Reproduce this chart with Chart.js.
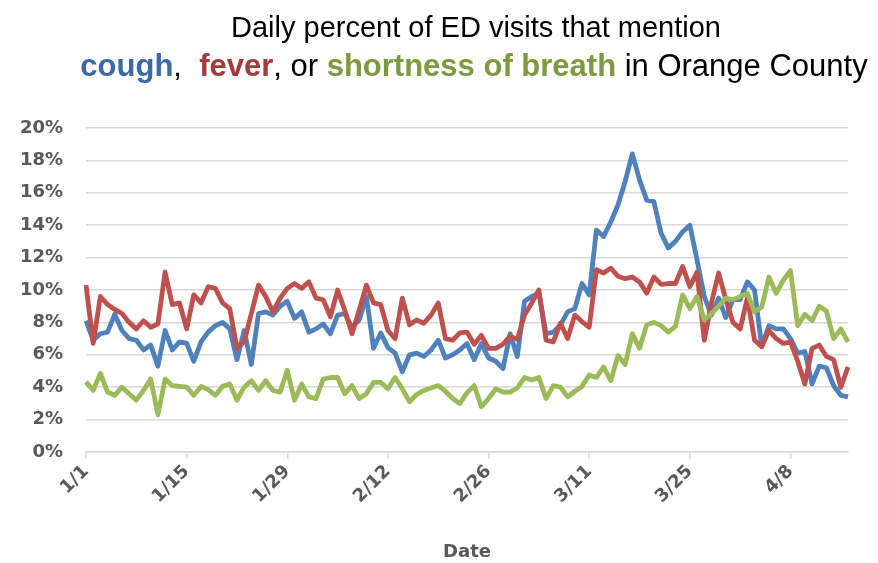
<!DOCTYPE html>
<html>
<head>
<meta charset="utf-8">
<script src="https://cdn.jsdelivr.net/npm/chart.js@4.4.1/dist/chart.umd.min.js"></script>
<style>
  html, body { margin: 0; padding: 0; background: #ffffff; }
</style>
</head>
<body>
<canvas id="chart" width="878" height="563"></canvas>
<script>
// daily categories, 1/1 through 4/16 (2020)
const dates = [];
for (let i = 0; i < 107; i++) {
  const d = new Date(2020, 0, 1 + i);
  dates.push((d.getMonth() + 1) + '/' + d.getDate());
}
const tickLabels = ['1/1', '1/15', '1/29', '2/12', '2/26', '3/11', '3/25', '4/8'];

// percent of ED visits
const cough = [
  8.1, 6.9, 7.3, 7.4, 8.5, 7.5, 7.0, 6.9, 6.3, 6.6, 5.3, 7.5, 6.3, 6.8, 6.7, 5.6, 6.8, 7.4, 7.8, 8.0,
  7.6, 5.7, 7.5, 5.4, 8.55, 8.65, 8.45, 9.0, 9.3, 8.25, 8.65, 7.4, 7.6, 7.9, 7.3, 8.45, 8.55, 7.7, 8.15, 9.6,
  6.4, 7.35, 6.45, 6.1, 4.95, 6.0, 6.1, 5.9, 6.3, 6.9, 5.8, 6.0, 6.3, 6.7, 5.7, 6.7, 5.8, 5.6, 5.15, 7.3,
  5.9, 9.3, 9.6, 9.8, 7.3, 7.4, 7.85, 8.65, 8.85, 10.4, 9.7, 13.7, 13.3, 14.2, 15.25, 16.7, 18.4, 16.8, 15.55, 15.45,
  13.5, 12.6, 13.0, 13.6, 14.0, 11.85, 9.6, 8.45, 9.5, 8.3, 9.4, 9.4, 10.5, 10.0, 6.5, 7.8, 7.6, 7.6, 7.0, 6.1,
  6.2, 4.2, 5.3, 5.2, 4.1, 3.5, 3.4
];
const fever = [
  10.3, 6.7, 9.6, 9.1, 8.8, 8.55, 8.0, 7.6, 8.1, 7.7, 7.9, 11.1, 9.1, 9.2, 7.6, 9.7, 9.2, 10.2, 10.1, 9.2,
  8.85, 6.4, 6.8, 8.55, 10.3, 9.6, 8.65, 9.5, 10.1, 10.4, 10.1, 10.5, 9.5, 9.4, 8.35, 10.0, 8.75, 7.3, 8.75, 10.3,
  9.2, 9.1, 7.5, 7.0, 9.5, 7.85, 8.15, 7.95, 8.45, 9.2, 7.0, 6.9, 7.35, 7.4, 6.65, 7.2, 6.4, 6.4, 6.65, 7.15,
  6.95, 8.45, 9.2, 10.0, 6.9, 6.8, 7.95, 7.0, 8.45, 8.05, 7.7, 11.25, 11.05, 11.35, 10.85, 10.7, 10.8, 10.5, 9.8, 10.8,
  10.35, 10.4, 10.4, 11.45, 10.2, 11.1, 6.9, 9.2, 11.05, 9.4, 8.0, 7.6, 9.5, 6.9, 6.5, 7.5, 7.0, 6.7, 6.8, 5.6,
  4.2, 6.4, 6.6, 5.9, 5.7, 4.0, 5.25
];
const breath = [
  4.33, 3.8, 4.85, 3.7, 3.5, 4.0, 3.6, 3.2, 3.8, 4.5, 2.3, 4.5, 4.1, 4.05, 4.0, 3.5, 4.05, 3.85, 3.5, 4.05,
  4.2, 3.2, 4.0, 4.4, 3.8, 4.4, 3.8, 3.7, 5.05, 3.2, 4.2, 3.4, 3.3, 4.5, 4.6, 4.6, 3.6, 4.1, 3.3, 3.6,
  4.3, 4.3, 3.9, 4.6, 3.9, 3.1, 3.55, 3.8, 3.95, 4.1, 3.75, 3.3, 3.0, 3.65, 4.1, 2.8, 3.3, 3.9, 3.7, 3.7,
  3.95, 4.6, 4.45, 4.6, 3.3, 4.1, 4.0, 3.4, 3.75, 4.05, 4.75, 4.6, 5.25, 4.4, 5.95, 5.4, 7.3, 6.4, 7.85, 8.0,
  7.8, 7.4, 7.75, 9.7, 8.85, 9.6, 8.15, 8.55, 9.0, 9.5, 9.4, 9.6, 9.8, 8.65, 8.95, 10.8, 9.8, 10.6, 11.2, 7.8,
  8.5, 8.1, 9.0, 8.7, 7.0, 7.6, 6.8
];

const titleLine1 = 'Daily percent of ED visits that mention';
const titleLine2 = [
  { text: 'cough', bold: true, color: '#3c6aa6' },
  { text: ',  ', bold: false, color: '#000000' },
  { text: 'fever', bold: true, color: '#a53b39' },
  { text: ', or ', bold: false, color: '#000000' },
  { text: 'shortness of breath', bold: true, color: '#7b9b3f' },
  { text: ' in Orange County', bold: false, color: '#000000' }
];

const titleFont = '"Liberation Sans", Arial, sans-serif';

const twoLineTitle = {
  id: 'twoLineTitle',
  afterDraw(chart) {
    const ctx = chart.ctx;
    ctx.save();
    ctx.textBaseline = 'alphabetic';
    ctx.textAlign = 'center';
    ctx.fillStyle = '#000000';
    ctx.font = '29px ' + titleFont;
    ctx.fillText(titleLine1, 476, 37);

    let total = 0;
    titleLine2.forEach(p => {
      ctx.font = (p.bold ? 'bold ' : '') + '31px ' + titleFont;
      p.w = ctx.measureText(p.text).width;
      total += p.w;
    });
    let x = 474 - total / 2;
    ctx.textAlign = 'left';
    titleLine2.forEach(p => {
      ctx.font = (p.bold ? 'bold ' : '') + '31px ' + titleFont;
      ctx.fillStyle = p.color;
      ctx.fillText(p.text, x, 76);
      x += p.w;
    });
    ctx.restore();
  }
};

const axisGrey = '#595959';
const gridGrey = '#d9d9d9';

new Chart(document.getElementById('chart'), {
  type: 'line',
  data: {
    labels: dates,
    datasets: [
      { label: 'cough', data: cough, borderColor: '#4f81bd', order: 3 },
      { label: 'fever', data: fever, borderColor: '#c0504d', order: 2 },
      { label: 'shortness of breath', data: breath, borderColor: '#9bbb59', order: 1 }
    ]
  },
  options: {
    responsive: false,
    animation: false,
    devicePixelRatio: 1,
    layout: { padding: { top: 128, right: 30, bottom: 0, left: 0 } },
    elements: {
      line: { borderWidth: 4.8, tension: 0, borderJoinStyle: 'round', fill: false },
      point: { radius: 0, hoverRadius: 0 }
    },
    plugins: {
      legend: { display: false },
      tooltip: { enabled: false },
      title: { display: false }
    },
    scales: {
      x: {
        afterFit: s => { s.height = 111; },
        grid: { drawOnChartArea: false, drawTicks: true, tickLength: 7, color: gridGrey, lineWidth: 1.5 },
        border: { color: gridGrey, width: 1.5 },
        ticks: {
          autoSkip: false,
          minRotation: 45,
          maxRotation: 45,
          padding: 2,
          color: axisGrey,
          font: { family: '"DejaVu Sans"', size: 18, weight: 'bold' },
          callback: function (v, i) {
            const l = dates[i];
            return tickLabels.includes(l) ? l : null;
          }
        },
        title: {
          display: true,
          text: 'Date',
          color: axisGrey,
          font: { family: '"DejaVu Sans"', size: 18, weight: 'bold' },
          padding: { top: 0, bottom: 0 }
        }
      },
      y: {
        min: 0,
        max: 20,
        afterFit: s => { s.width = 86; },
        grid: { drawTicks: false, color: gridGrey, lineWidth: 1.5 },
        border: { display: false },
        ticks: {
          stepSize: 2,
          padding: 23,
          color: axisGrey,
          font: { family: '"DejaVu Sans"', size: 18, weight: 'bold' },
          callback: v => v + '%'
        }
      }
    }
  },
  plugins: [twoLineTitle]
});
</script>
</body>
</html>
